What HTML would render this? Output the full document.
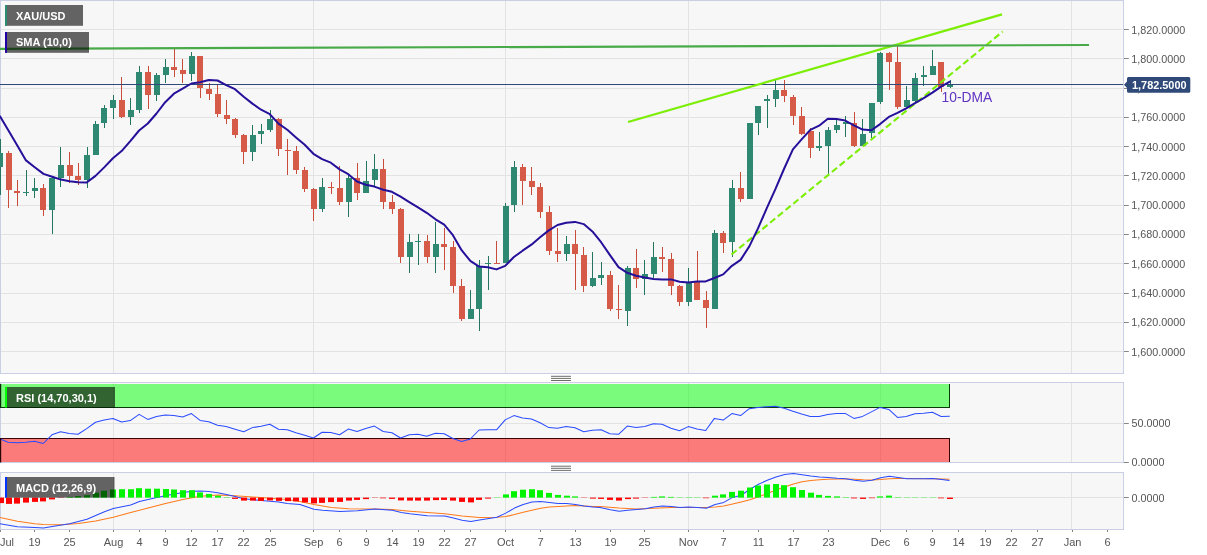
<!DOCTYPE html>
<html><head><meta charset="utf-8"><title>XAU/USD</title>
<style>html,body{margin:0;padding:0;background:#fff}body{width:1207px;height:555px;overflow:hidden;font-family:"Liberation Sans",Arial,sans-serif}svg{display:block}text{font-family:"Liberation Sans",Arial,sans-serif}</style></head><body>
<svg width="1207" height="555" viewBox="0 0 1207 555">
<rect width="1207" height="555" fill="#fff"/>
<rect x="0.5" y="0.5" width="1123.0" height="373" fill="#f7f7f7" stroke="#c9d0e6" stroke-width="1"/>
<rect x="0.5" y="382.5" width="1123.0" height="80" fill="#f7f7f7" stroke="#c9d0e6" stroke-width="1"/>
<rect x="0.5" y="472.5" width="1123.0" height="57" fill="#f7f7f7" stroke="#c9d0e6" stroke-width="1"/>
<defs>
<clipPath id="cp0"><rect x="0" y="1" width="1123.0" height="372"/></clipPath>
<clipPath id="cp1"><rect x="0" y="383" width="1123.0" height="79"/></clipPath>
<clipPath id="cp2"><rect x="0" y="473" width="1123.0" height="56"/></clipPath>
</defs>
<line x1="113.5" y1="1" x2="113.5" y2="373" stroke="#e3e3e3" stroke-width="1"/>
<line x1="313.5" y1="1" x2="313.5" y2="373" stroke="#e3e3e3" stroke-width="1"/>
<line x1="505.5" y1="1" x2="505.5" y2="373" stroke="#e3e3e3" stroke-width="1"/>
<line x1="688.5" y1="1" x2="688.5" y2="373" stroke="#e3e3e3" stroke-width="1"/>
<line x1="880.5" y1="1" x2="880.5" y2="373" stroke="#e3e3e3" stroke-width="1"/>
<line x1="1071.5" y1="1" x2="1071.5" y2="373" stroke="#e3e3e3" stroke-width="1"/>
<line x1="113.5" y1="383" x2="113.5" y2="462" stroke="#e3e3e3" stroke-width="1"/>
<line x1="313.5" y1="383" x2="313.5" y2="462" stroke="#e3e3e3" stroke-width="1"/>
<line x1="505.5" y1="383" x2="505.5" y2="462" stroke="#e3e3e3" stroke-width="1"/>
<line x1="688.5" y1="383" x2="688.5" y2="462" stroke="#e3e3e3" stroke-width="1"/>
<line x1="880.5" y1="383" x2="880.5" y2="462" stroke="#e3e3e3" stroke-width="1"/>
<line x1="1071.5" y1="383" x2="1071.5" y2="462" stroke="#e3e3e3" stroke-width="1"/>
<line x1="113.5" y1="473" x2="113.5" y2="529" stroke="#e3e3e3" stroke-width="1"/>
<line x1="313.5" y1="473" x2="313.5" y2="529" stroke="#e3e3e3" stroke-width="1"/>
<line x1="505.5" y1="473" x2="505.5" y2="529" stroke="#e3e3e3" stroke-width="1"/>
<line x1="688.5" y1="473" x2="688.5" y2="529" stroke="#e3e3e3" stroke-width="1"/>
<line x1="880.5" y1="473" x2="880.5" y2="529" stroke="#e3e3e3" stroke-width="1"/>
<line x1="1071.5" y1="473" x2="1071.5" y2="529" stroke="#e3e3e3" stroke-width="1"/>
<line x1="1" y1="29.5" x2="1123.5" y2="29.5" stroke="#e3e3e3" stroke-width="1"/>
<line x1="1124.0" y1="29.5" x2="1128.8" y2="29.5" stroke="#858585" stroke-width="1"/>
<text x="1131.2" y="34" font-size="11" fill="#555" textLength="54" lengthAdjust="spacingAndGlyphs">1,820.0000</text>
<line x1="1" y1="58.5" x2="1123.5" y2="58.5" stroke="#e3e3e3" stroke-width="1"/>
<line x1="1124.0" y1="58.5" x2="1128.8" y2="58.5" stroke="#858585" stroke-width="1"/>
<text x="1131.2" y="63" font-size="11" fill="#555" textLength="54" lengthAdjust="spacingAndGlyphs">1,800.0000</text>
<line x1="1" y1="88.5" x2="1123.5" y2="88.5" stroke="#e3e3e3" stroke-width="1"/>
<line x1="1124.0" y1="88.5" x2="1128.8" y2="88.5" stroke="#858585" stroke-width="1"/>
<text x="1131.2" y="92" font-size="11" fill="#555" textLength="54" lengthAdjust="spacingAndGlyphs">1,780.0000</text>
<line x1="1" y1="117.5" x2="1123.5" y2="117.5" stroke="#e3e3e3" stroke-width="1"/>
<line x1="1124.0" y1="117.5" x2="1128.8" y2="117.5" stroke="#858585" stroke-width="1"/>
<text x="1131.2" y="121" font-size="11" fill="#555" textLength="54" lengthAdjust="spacingAndGlyphs">1,760.0000</text>
<line x1="1" y1="146.5" x2="1123.5" y2="146.5" stroke="#e3e3e3" stroke-width="1"/>
<line x1="1124.0" y1="146.5" x2="1128.8" y2="146.5" stroke="#858585" stroke-width="1"/>
<text x="1131.2" y="151" font-size="11" fill="#555" textLength="54" lengthAdjust="spacingAndGlyphs">1,740.0000</text>
<line x1="1" y1="175.5" x2="1123.5" y2="175.5" stroke="#e3e3e3" stroke-width="1"/>
<line x1="1124.0" y1="175.5" x2="1128.8" y2="175.5" stroke="#858585" stroke-width="1"/>
<text x="1131.2" y="180" font-size="11" fill="#555" textLength="54" lengthAdjust="spacingAndGlyphs">1,720.0000</text>
<line x1="1" y1="205.5" x2="1123.5" y2="205.5" stroke="#e3e3e3" stroke-width="1"/>
<line x1="1124.0" y1="205.5" x2="1128.8" y2="205.5" stroke="#858585" stroke-width="1"/>
<text x="1131.2" y="209" font-size="11" fill="#555" textLength="54" lengthAdjust="spacingAndGlyphs">1,700.0000</text>
<line x1="1" y1="234.5" x2="1123.5" y2="234.5" stroke="#e3e3e3" stroke-width="1"/>
<line x1="1124.0" y1="234.5" x2="1128.8" y2="234.5" stroke="#858585" stroke-width="1"/>
<text x="1131.2" y="238" font-size="11" fill="#555" textLength="54" lengthAdjust="spacingAndGlyphs">1,680.0000</text>
<line x1="1" y1="263.5" x2="1123.5" y2="263.5" stroke="#e3e3e3" stroke-width="1"/>
<line x1="1124.0" y1="263.5" x2="1128.8" y2="263.5" stroke="#858585" stroke-width="1"/>
<text x="1131.2" y="268" font-size="11" fill="#555" textLength="54" lengthAdjust="spacingAndGlyphs">1,660.0000</text>
<line x1="1" y1="293.5" x2="1123.5" y2="293.5" stroke="#e3e3e3" stroke-width="1"/>
<line x1="1124.0" y1="293.5" x2="1128.8" y2="293.5" stroke="#858585" stroke-width="1"/>
<text x="1131.2" y="297" font-size="11" fill="#555" textLength="54" lengthAdjust="spacingAndGlyphs">1,640.0000</text>
<line x1="1" y1="322.5" x2="1123.5" y2="322.5" stroke="#e3e3e3" stroke-width="1"/>
<line x1="1124.0" y1="322.5" x2="1128.8" y2="322.5" stroke="#858585" stroke-width="1"/>
<text x="1131.2" y="326" font-size="11" fill="#555" textLength="54" lengthAdjust="spacingAndGlyphs">1,620.0000</text>
<line x1="1" y1="351.5" x2="1123.5" y2="351.5" stroke="#e3e3e3" stroke-width="1"/>
<line x1="1124.0" y1="351.5" x2="1128.8" y2="351.5" stroke="#858585" stroke-width="1"/>
<text x="1131.2" y="356" font-size="11" fill="#555" textLength="54" lengthAdjust="spacingAndGlyphs">1,600.0000</text>
<line x1="1" y1="423.5" x2="1123.5" y2="423.5" stroke="#e3e3e3" stroke-width="1"/>
<line x1="1124.0" y1="423.5" x2="1128.8" y2="423.5" stroke="#858585" stroke-width="1"/>
<text x="1131.5" y="426.5" font-size="11" fill="#555" textLength="39" lengthAdjust="spacingAndGlyphs">50.0000</text>
<line x1="1124.0" y1="462.5" x2="1128.8" y2="462.5" stroke="#858585" stroke-width="1"/>
<text x="1131.5" y="465.5" font-size="11" fill="#555" textLength="33" lengthAdjust="spacingAndGlyphs">0.0000</text>
<line x1="1" y1="497.5" x2="1123.5" y2="497.5" stroke="#e3e3e3" stroke-width="1"/>
<line x1="1124.0" y1="497.5" x2="1128.8" y2="497.5" stroke="#858585" stroke-width="1"/>
<text x="1131.5" y="501.5" font-size="11" fill="#555" textLength="33" lengthAdjust="spacingAndGlyphs">0.0000</text>
<g clip-path="url(#cp0)">
<g shape-rendering="crispEdges">
<rect x="0" y="138.6" width="1" height="55.9" fill="#22755f"/>
<rect x="-3" y="153.0" width="6" height="13.7" fill="#2f8872"/>
<rect x="8" y="151.0" width="1" height="57.2" fill="#c94b3a"/>
<rect x="6" y="152.8" width="6" height="37.2" fill="#d55a48"/>
<rect x="17" y="180.3" width="1" height="26.1" fill="#c94b3a"/>
<rect x="14" y="190.8" width="6" height="1.7" fill="#d55a48"/>
<rect x="26" y="170.2" width="1" height="26.1" fill="#22755f"/>
<rect x="23" y="191.5" width="6" height="1.3" fill="#2f8872"/>
<rect x="34" y="178.4" width="1" height="19.1" fill="#22755f"/>
<rect x="32" y="188.3" width="6" height="3.0" fill="#2f8872"/>
<rect x="43" y="184.0" width="1" height="32.4" fill="#c94b3a"/>
<rect x="40" y="188.0" width="6" height="22.0" fill="#d55a48"/>
<rect x="52" y="176.6" width="1" height="56.9" fill="#22755f"/>
<rect x="49" y="177.6" width="6" height="32.4" fill="#2f8872"/>
<rect x="60" y="147.3" width="1" height="39.3" fill="#22755f"/>
<rect x="58" y="164.7" width="6" height="12.9" fill="#2f8872"/>
<rect x="69" y="152.3" width="1" height="31.0" fill="#c94b3a"/>
<rect x="67" y="164.7" width="6" height="11.2" fill="#d55a48"/>
<rect x="78" y="163.0" width="1" height="22.3" fill="#c94b3a"/>
<rect x="75" y="176.4" width="6" height="3.2" fill="#d55a48"/>
<rect x="87" y="146.5" width="1" height="41.8" fill="#22755f"/>
<rect x="84" y="155.2" width="6" height="24.4" fill="#2f8872"/>
<rect x="95" y="121.2" width="1" height="34.0" fill="#22755f"/>
<rect x="93" y="123.7" width="6" height="31.5" fill="#2f8872"/>
<rect x="104" y="104.7" width="1" height="23.7" fill="#22755f"/>
<rect x="101" y="108.0" width="6" height="15.1" fill="#2f8872"/>
<rect x="113" y="94.6" width="1" height="24.5" fill="#22755f"/>
<rect x="110" y="99.7" width="6" height="8.3" fill="#2f8872"/>
<rect x="121" y="76.5" width="1" height="41.1" fill="#c94b3a"/>
<rect x="119" y="99.9" width="6" height="16.9" fill="#d55a48"/>
<rect x="130" y="98.4" width="1" height="27.0" fill="#22755f"/>
<rect x="128" y="109.8" width="6" height="7.0" fill="#2f8872"/>
<rect x="139" y="66.4" width="1" height="46.4" fill="#22755f"/>
<rect x="136" y="71.9" width="6" height="37.9" fill="#2f8872"/>
<rect x="148" y="66.4" width="1" height="42.6" fill="#c94b3a"/>
<rect x="145" y="71.9" width="6" height="23.0" fill="#d55a48"/>
<rect x="156" y="73.2" width="1" height="28.2" fill="#22755f"/>
<rect x="154" y="74.9" width="6" height="20.0" fill="#2f8872"/>
<rect x="165" y="58.5" width="1" height="24.8" fill="#22755f"/>
<rect x="163" y="67.4" width="6" height="7.3" fill="#2f8872"/>
<rect x="174" y="48.4" width="1" height="28.1" fill="#c94b3a"/>
<rect x="171" y="67.4" width="6" height="2.2" fill="#d55a48"/>
<rect x="182" y="59.3" width="1" height="23.2" fill="#c94b3a"/>
<rect x="180" y="70.4" width="6" height="3.3" fill="#d55a48"/>
<rect x="191" y="52.2" width="1" height="28.5" fill="#22755f"/>
<rect x="189" y="55.8" width="6" height="17.9" fill="#2f8872"/>
<rect x="200" y="55.8" width="1" height="42.6" fill="#c94b3a"/>
<rect x="197" y="55.8" width="6" height="32.5" fill="#d55a48"/>
<rect x="209" y="83.3" width="1" height="17.1" fill="#c94b3a"/>
<rect x="206" y="88.8" width="6" height="5.1" fill="#d55a48"/>
<rect x="217" y="85.0" width="1" height="32.3" fill="#c94b3a"/>
<rect x="215" y="94.4" width="6" height="19.9" fill="#d55a48"/>
<rect x="226" y="99.7" width="1" height="24.4" fill="#c94b3a"/>
<rect x="224" y="115.0" width="6" height="3.6" fill="#d55a48"/>
<rect x="235" y="118.0" width="1" height="20.2" fill="#c94b3a"/>
<rect x="232" y="119.3" width="6" height="15.7" fill="#d55a48"/>
<rect x="243" y="133.6" width="1" height="30.6" fill="#c94b3a"/>
<rect x="241" y="135.4" width="6" height="16.1" fill="#d55a48"/>
<rect x="252" y="125.4" width="1" height="35.1" fill="#22755f"/>
<rect x="250" y="134.9" width="6" height="16.6" fill="#2f8872"/>
<rect x="261" y="123.7" width="1" height="19.9" fill="#22755f"/>
<rect x="258" y="130.6" width="6" height="3.8" fill="#2f8872"/>
<rect x="270" y="109.5" width="1" height="22.9" fill="#22755f"/>
<rect x="267" y="119.4" width="6" height="10.5" fill="#2f8872"/>
<rect x="278" y="118.2" width="1" height="37.3" fill="#c94b3a"/>
<rect x="276" y="119.2" width="6" height="30.1" fill="#d55a48"/>
<rect x="287" y="138.6" width="1" height="36.8" fill="#c94b3a"/>
<rect x="285" y="149.8" width="6" height="1.0" fill="#d55a48"/>
<rect x="296" y="145.5" width="1" height="28.9" fill="#c94b3a"/>
<rect x="293" y="151.0" width="6" height="18.7" fill="#d55a48"/>
<rect x="304" y="166.7" width="1" height="24.8" fill="#c94b3a"/>
<rect x="302" y="170.2" width="6" height="18.6" fill="#d55a48"/>
<rect x="313" y="188.3" width="1" height="33.1" fill="#c94b3a"/>
<rect x="311" y="189.0" width="6" height="19.7" fill="#d55a48"/>
<rect x="322" y="178.4" width="1" height="34.0" fill="#22755f"/>
<rect x="319" y="187.1" width="6" height="21.6" fill="#2f8872"/>
<rect x="331" y="182.3" width="1" height="11.2" fill="#c94b3a"/>
<rect x="328" y="187.3" width="6" height="1.0" fill="#d55a48"/>
<rect x="339" y="165.9" width="1" height="39.3" fill="#c94b3a"/>
<rect x="337" y="188.0" width="6" height="14.0" fill="#d55a48"/>
<rect x="348" y="174.1" width="1" height="43.3" fill="#22755f"/>
<rect x="346" y="178.4" width="6" height="23.6" fill="#2f8872"/>
<rect x="357" y="162.9" width="1" height="36.6" fill="#c94b3a"/>
<rect x="354" y="178.4" width="6" height="14.4" fill="#d55a48"/>
<rect x="366" y="161.0" width="1" height="31.8" fill="#22755f"/>
<rect x="363" y="180.8" width="6" height="12.0" fill="#2f8872"/>
<rect x="374" y="153.5" width="1" height="32.3" fill="#22755f"/>
<rect x="372" y="169.2" width="6" height="11.1" fill="#2f8872"/>
<rect x="383" y="158.5" width="1" height="50.9" fill="#c94b3a"/>
<rect x="380" y="169.2" width="6" height="32.8" fill="#d55a48"/>
<rect x="392" y="194.5" width="1" height="19.9" fill="#c94b3a"/>
<rect x="389" y="202.2" width="6" height="6.7" fill="#d55a48"/>
<rect x="400" y="207.5" width="1" height="55.9" fill="#c94b3a"/>
<rect x="398" y="209.4" width="6" height="47.3" fill="#d55a48"/>
<rect x="409" y="234.3" width="1" height="38.3" fill="#22755f"/>
<rect x="407" y="242.3" width="6" height="14.4" fill="#2f8872"/>
<rect x="418" y="234.3" width="1" height="30.3" fill="#22755f"/>
<rect x="415" y="240.5" width="6" height="1.3" fill="#2f8872"/>
<rect x="427" y="235.3" width="1" height="28.1" fill="#c94b3a"/>
<rect x="424" y="240.5" width="6" height="16.2" fill="#d55a48"/>
<rect x="435" y="222.4" width="1" height="50.2" fill="#22755f"/>
<rect x="433" y="243.5" width="6" height="13.2" fill="#2f8872"/>
<rect x="444" y="227.8" width="1" height="42.5" fill="#c94b3a"/>
<rect x="441" y="243.5" width="6" height="3.2" fill="#d55a48"/>
<rect x="453" y="241.0" width="1" height="52.2" fill="#c94b3a"/>
<rect x="450" y="247.2" width="6" height="38.6" fill="#d55a48"/>
<rect x="461" y="278.8" width="1" height="41.8" fill="#c94b3a"/>
<rect x="459" y="286.3" width="6" height="33.0" fill="#d55a48"/>
<rect x="470" y="289.5" width="1" height="29.8" fill="#22755f"/>
<rect x="468" y="308.9" width="6" height="9.9" fill="#2f8872"/>
<rect x="479" y="259.7" width="1" height="70.8" fill="#22755f"/>
<rect x="476" y="265.9" width="6" height="42.7" fill="#2f8872"/>
<rect x="488" y="256.4" width="1" height="33.8" fill="#22755f"/>
<rect x="485" y="262.9" width="6" height="1.0" fill="#2f8872"/>
<rect x="496" y="241.0" width="1" height="22.9" fill="#c94b3a"/>
<rect x="494" y="263.1" width="6" height="1.0" fill="#d55a48"/>
<rect x="505" y="202.5" width="1" height="60.4" fill="#22755f"/>
<rect x="503" y="205.5" width="6" height="57.4" fill="#2f8872"/>
<rect x="514" y="161.0" width="1" height="51.4" fill="#22755f"/>
<rect x="511" y="167.2" width="6" height="38.0" fill="#2f8872"/>
<rect x="522" y="164.2" width="1" height="40.3" fill="#c94b3a"/>
<rect x="520" y="167.2" width="6" height="13.9" fill="#d55a48"/>
<rect x="531" y="167.2" width="1" height="28.1" fill="#c94b3a"/>
<rect x="529" y="181.3" width="6" height="5.5" fill="#d55a48"/>
<rect x="540" y="183.3" width="1" height="34.8" fill="#c94b3a"/>
<rect x="537" y="187.1" width="6" height="24.6" fill="#d55a48"/>
<rect x="549" y="205.5" width="1" height="49.7" fill="#c94b3a"/>
<rect x="546" y="211.9" width="6" height="38.6" fill="#d55a48"/>
<rect x="557" y="228.1" width="1" height="34.0" fill="#c94b3a"/>
<rect x="555" y="251.0" width="6" height="3.2" fill="#d55a48"/>
<rect x="566" y="236.0" width="1" height="25.4" fill="#22755f"/>
<rect x="564" y="244.2" width="6" height="10.0" fill="#2f8872"/>
<rect x="575" y="230.3" width="1" height="59.2" fill="#c94b3a"/>
<rect x="572" y="244.2" width="6" height="9.7" fill="#d55a48"/>
<rect x="583" y="246.5" width="1" height="45.5" fill="#c94b3a"/>
<rect x="581" y="254.7" width="6" height="31.1" fill="#d55a48"/>
<rect x="592" y="251.5" width="1" height="35.5" fill="#22755f"/>
<rect x="590" y="278.3" width="6" height="7.5" fill="#2f8872"/>
<rect x="601" y="262.1" width="1" height="22.4" fill="#22755f"/>
<rect x="598" y="275.3" width="6" height="2.5" fill="#2f8872"/>
<rect x="610" y="271.3" width="1" height="40.1" fill="#c94b3a"/>
<rect x="607" y="275.3" width="6" height="33.3" fill="#d55a48"/>
<rect x="618" y="284.5" width="1" height="34.1" fill="#c94b3a"/>
<rect x="616" y="308.6" width="6" height="1.3" fill="#d55a48"/>
<rect x="627" y="265.9" width="1" height="60.4" fill="#22755f"/>
<rect x="625" y="267.6" width="6" height="43.0" fill="#2f8872"/>
<rect x="636" y="248.5" width="1" height="39.0" fill="#c94b3a"/>
<rect x="633" y="267.6" width="6" height="11.2" fill="#d55a48"/>
<rect x="644" y="260.4" width="1" height="34.8" fill="#22755f"/>
<rect x="642" y="273.8" width="6" height="5.0" fill="#2f8872"/>
<rect x="653" y="241.5" width="1" height="36.3" fill="#22755f"/>
<rect x="651" y="257.2" width="6" height="16.6" fill="#2f8872"/>
<rect x="662" y="247.2" width="1" height="24.4" fill="#c94b3a"/>
<rect x="659" y="257.2" width="6" height="1.5" fill="#d55a48"/>
<rect x="671" y="252.9" width="1" height="42.3" fill="#c94b3a"/>
<rect x="668" y="259.2" width="6" height="26.6" fill="#d55a48"/>
<rect x="679" y="284.5" width="1" height="21.1" fill="#c94b3a"/>
<rect x="677" y="286.3" width="6" height="16.1" fill="#d55a48"/>
<rect x="688" y="268.4" width="1" height="38.0" fill="#22755f"/>
<rect x="686" y="282.0" width="6" height="20.4" fill="#2f8872"/>
<rect x="697" y="250.5" width="1" height="49.4" fill="#c94b3a"/>
<rect x="694" y="282.0" width="6" height="17.9" fill="#d55a48"/>
<rect x="706" y="291.2" width="1" height="36.3" fill="#c94b3a"/>
<rect x="703" y="299.9" width="6" height="8.2" fill="#d55a48"/>
<rect x="714" y="230.3" width="1" height="79.1" fill="#22755f"/>
<rect x="712" y="233.1" width="6" height="75.5" fill="#2f8872"/>
<rect x="723" y="231.1" width="1" height="22.3" fill="#c94b3a"/>
<rect x="720" y="233.1" width="6" height="9.7" fill="#d55a48"/>
<rect x="732" y="180.1" width="1" height="76.6" fill="#22755f"/>
<rect x="729" y="187.6" width="6" height="54.7" fill="#2f8872"/>
<rect x="740" y="171.9" width="1" height="30.3" fill="#c94b3a"/>
<rect x="738" y="187.6" width="6" height="10.9" fill="#d55a48"/>
<rect x="749" y="123.0" width="1" height="76.3" fill="#22755f"/>
<rect x="747" y="123.4" width="6" height="75.1" fill="#2f8872"/>
<rect x="758" y="105.5" width="1" height="29.9" fill="#22755f"/>
<rect x="755" y="106.0" width="6" height="17.4" fill="#2f8872"/>
<rect x="767" y="94.9" width="1" height="32.8" fill="#22755f"/>
<rect x="764" y="99.3" width="6" height="1.3" fill="#2f8872"/>
<rect x="775" y="78.7" width="1" height="27.8" fill="#22755f"/>
<rect x="773" y="90.4" width="6" height="8.9" fill="#2f8872"/>
<rect x="784" y="80.4" width="1" height="21.9" fill="#c94b3a"/>
<rect x="781" y="90.4" width="6" height="5.7" fill="#d55a48"/>
<rect x="793" y="94.9" width="1" height="30.3" fill="#c94b3a"/>
<rect x="790" y="96.6" width="6" height="18.9" fill="#d55a48"/>
<rect x="801" y="106.5" width="1" height="28.9" fill="#c94b3a"/>
<rect x="799" y="116.0" width="6" height="18.1" fill="#d55a48"/>
<rect x="810" y="128.4" width="1" height="29.1" fill="#c94b3a"/>
<rect x="808" y="130.9" width="6" height="16.9" fill="#d55a48"/>
<rect x="819" y="132.1" width="1" height="18.7" fill="#22755f"/>
<rect x="816" y="145.8" width="6" height="2.0" fill="#2f8872"/>
<rect x="828" y="126.7" width="1" height="47.7" fill="#22755f"/>
<rect x="825" y="129.7" width="6" height="16.6" fill="#2f8872"/>
<rect x="836" y="119.7" width="1" height="13.7" fill="#22755f"/>
<rect x="834" y="124.7" width="6" height="5.5" fill="#2f8872"/>
<rect x="845" y="115.5" width="1" height="21.6" fill="#22755f"/>
<rect x="843" y="122.2" width="6" height="1.5" fill="#2f8872"/>
<rect x="854" y="111.5" width="1" height="35.6" fill="#c94b3a"/>
<rect x="851" y="122.7" width="6" height="23.6" fill="#d55a48"/>
<rect x="862" y="118.5" width="1" height="27.3" fill="#22755f"/>
<rect x="860" y="134.1" width="6" height="11.7" fill="#2f8872"/>
<rect x="871" y="103.1" width="1" height="35.3" fill="#22755f"/>
<rect x="869" y="103.1" width="6" height="30.3" fill="#2f8872"/>
<rect x="880" y="52.2" width="1" height="52.2" fill="#22755f"/>
<rect x="877" y="53.4" width="6" height="49.0" fill="#2f8872"/>
<rect x="889" y="52.2" width="1" height="37.8" fill="#c94b3a"/>
<rect x="886" y="53.4" width="6" height="8.7" fill="#d55a48"/>
<rect x="897" y="46.0" width="1" height="62.6" fill="#c94b3a"/>
<rect x="895" y="61.6" width="6" height="45.8" fill="#d55a48"/>
<rect x="906" y="86.3" width="1" height="21.1" fill="#22755f"/>
<rect x="904" y="100.2" width="6" height="7.2" fill="#2f8872"/>
<rect x="915" y="72.6" width="1" height="29.3" fill="#22755f"/>
<rect x="912" y="77.8" width="6" height="22.9" fill="#2f8872"/>
<rect x="923" y="66.4" width="1" height="19.9" fill="#22755f"/>
<rect x="921" y="75.3" width="6" height="2.0" fill="#2f8872"/>
<rect x="932" y="49.7" width="1" height="25.4" fill="#22755f"/>
<rect x="930" y="65.9" width="6" height="9.2" fill="#2f8872"/>
<rect x="941" y="62.1" width="1" height="29.4" fill="#c94b3a"/>
<rect x="938" y="62.1" width="6" height="24.4" fill="#d55a48"/>
<rect x="950" y="79.5" width="1" height="8.7" fill="#22755f"/>
<rect x="947" y="85.0" width="6" height="2.0" fill="#2f8872"/>
</g>
<line x1="0" y1="84.5" x2="1123.5" y2="84.5" stroke="#2f4a78" stroke-width="1.2"/>
<line x1="628" y1="122" x2="1002" y2="14.3" stroke="#7cee05" stroke-width="2.3"/>
<line x1="731.5" y1="254.5" x2="1002.7" y2="31.6" stroke="#7cee05" stroke-width="2.1" stroke-dasharray="6.6,3.4"/>
<line x1="0" y1="48.8" x2="1089" y2="45" stroke="#48aa48" stroke-width="2.2"/>
<polyline points="0.0,116.2 8.6,130.8 17.3,145.6 26.0,160.4 34.7,167.2 43.5,173.9 52.2,176.7 60.9,179.6 69.6,181.2 78.0,182.3 86.7,182.5 95.5,175.9 104.2,167.4 112.9,158.3 121.6,151.1 130.3,141.1 139.1,130.5 147.8,123.5 156.5,113.5 165.2,102.2 173.9,93.7 182.6,88.7 191.4,83.5 200.1,82.3 208.8,80.0 217.5,80.5 226.2,85.1 235.0,89.2 243.7,96.8 252.4,103.6 261.1,109.7 269.8,114.2 278.5,123.6 287.3,129.8 296.0,137.4 304.7,144.8 313.4,153.8 322.1,159.1 330.8,162.7 339.6,169.4 348.3,174.2 357.0,181.5 365.7,184.7 374.4,186.6 383.2,189.8 391.9,191.8 400.6,196.6 409.3,202.1 418.0,207.4 426.7,212.8 435.5,219.3 444.2,224.7 452.9,235.2 461.6,250.2 470.3,260.9 479.1,266.6 487.8,267.2 496.5,269.4 505.2,265.9 513.9,257.0 522.6,250.7 531.4,244.7 540.1,237.3 548.8,230.4 557.5,225.0 566.2,222.8 575.0,221.9 583.7,224.1 592.4,231.4 601.1,242.2 609.8,254.9 618.5,267.2 627.3,272.8 636.0,275.7 644.7,277.6 653.4,278.9 662.1,279.4 670.9,279.4 679.6,281.8 688.3,282.5 697.0,281.6 705.7,281.4 714.4,278.0 723.2,274.4 731.9,265.8 740.6,259.9 749.3,246.4 758.0,228.4 766.8,208.1 775.5,188.9 784.2,168.5 792.9,149.3 801.6,139.4 810.3,129.9 819.1,125.7 827.8,118.8 836.5,118.9 845.2,120.6 853.9,125.3 862.6,129.6 871.4,130.3 880.1,124.1 888.8,116.9 897.5,112.9 906.2,108.3 915.0,103.1 923.7,98.2 932.4,92.6 941.1,86.6 949.8,81.7" fill="none" stroke="#25109a" stroke-width="2" stroke-linejoin="round" stroke-linecap="round"/>
<text x="941.6" y="102" font-size="14" fill="#6134c2" textLength="50.7" lengthAdjust="spacingAndGlyphs">10-DMA</text>
</g>
<g clip-path="url(#cp1)">
<rect x="0" y="384" width="949.5" height="23.5" fill="#00ff00" fill-opacity="0.5"/>
<rect x="0" y="438.5" width="949.5" height="24" fill="#ff0000" fill-opacity="0.5"/>
<line x1="0" y1="407.5" x2="949.5" y2="407.5" stroke="#083c08" stroke-width="1.2"/>
<line x1="0" y1="438.5" x2="949.5" y2="438.5" stroke="#3c0505" stroke-width="1.2"/>
<line x1="949.5" y1="384" x2="949.5" y2="408" stroke="#083c08" stroke-width="1"/>
<line x1="949.5" y1="438" x2="949.5" y2="463" stroke="#3c0505" stroke-width="1"/>
<polyline points="0.0,439.0 8.3,442.2 17.0,442.7 25.7,442.2 34.4,441.2 43.2,443.5 51.9,434.8 60.6,431.8 69.3,433.5 78.0,434.3 86.7,428.6 95.5,422.3 104.2,419.9 112.9,418.4 121.6,422.1 130.3,420.6 139.1,414.4 147.8,419.4 156.5,416.6 165.2,415.1 173.9,415.6 182.6,416.9 191.4,413.6 200.1,420.4 208.8,421.8 217.5,425.3 226.2,426.6 235.0,429.3 243.7,431.8 252.4,427.6 261.1,426.3 269.8,424.3 278.5,429.3 287.3,429.8 296.0,432.8 304.7,435.3 313.4,438.0 322.1,432.3 330.8,432.5 339.6,434.8 348.3,429.1 357.0,431.5 365.7,428.6 374.4,426.1 383.2,431.5 391.9,432.8 400.6,438.0 409.3,434.8 418.0,434.3 426.7,436.3 435.5,433.3 444.2,433.8 452.9,438.5 461.6,441.5 470.3,439.0 479.1,430.0 487.8,429.8 496.5,429.8 505.2,419.9 513.9,415.6 522.6,417.9 531.4,419.1 540.1,422.8 548.8,427.6 557.5,428.3 566.2,426.6 575.0,427.8 583.7,431.8 592.4,430.3 601.1,429.8 609.8,433.8 618.5,434.3 627.3,426.1 636.0,427.6 644.7,426.6 653.4,423.8 662.1,424.3 670.9,428.3 679.6,430.8 688.3,426.6 697.0,429.1 705.7,430.5 714.4,418.4 723.2,420.1 731.9,413.6 740.6,415.6 749.3,408.7 758.0,407.4 766.8,406.7 775.5,406.2 784.2,408.2 792.9,411.2 801.6,414.1 810.3,416.6 819.1,416.4 827.8,414.4 836.5,413.6 845.2,413.4 853.9,418.4 862.6,416.4 871.4,411.9 880.1,407.4 888.8,409.4 897.5,417.4 906.2,416.5 915.0,413.8 923.7,413.3 932.4,412.3 941.1,416.5 949.8,416.3" fill="none" stroke="#2a4bff" stroke-width="1.05" stroke-linejoin="round"/>
</g>
<rect x="0" y="384" width="1.2" height="24" fill="#0a280a"/>
<rect x="0" y="438" width="1.2" height="24.5" fill="#2a0505"/>
<g clip-path="url(#cp2)">
<polyline points="0.0,517.5 17.4,521.3 34.8,523.8 43.5,524.5 60.9,524.8 78.3,523.5 95.7,521.0 113.3,517.3 130.7,512.6 148.1,508.1 165.5,503.6 182.9,499.4 200.3,496.2 217.7,494.9 235.1,495.7 252.5,496.9 269.9,498.2 287.3,499.4 300.0,501.4 313.9,504.4 331.3,507.4 348.7,508.8 374.8,509.1 392.2,509.6 409.9,511.3 427.3,512.6 444.7,513.8 462.1,516.1 479.5,517.5 496.9,517.3 505.8,516.6 514.5,514.6 523.2,512.3 531.9,510.3 540.6,508.3 549.3,507.1 558.0,506.4 566.7,505.9 575.4,505.6 584.1,506.1 592.8,506.6 600.0,506.5 619.1,508.1 636.5,509.1 653.9,508.3 671.3,507.6 688.7,507.4 706.4,507.6 715.1,506.9 723.8,505.9 732.5,504.1 741.2,501.9 749.9,499.8 758.6,496.8 767.3,493.4 776.0,490.0 784.7,486.9 793.4,484.0 802.1,481.8 810.8,480.5 819.5,479.8 828.2,479.3 837.1,479.0 845.8,479.0 854.5,479.3 863.2,479.8 871.9,480.0 880.7,479.5 889.4,478.8 898.1,478.5 906.8,478.4 933.0,478.7 949.5,479.2" fill="none" stroke="#ff7a1a" stroke-width="1.05" stroke-linejoin="round"/>
<polyline points="0.0,523.8 17.4,526.7 34.8,527.6 43.5,528.1 52.2,526.6 69.6,523.7 87.0,519.3 104.4,511.8 113.3,508.6 130.7,504.9 139.4,501.4 156.8,497.4 174.2,493.9 191.6,491.2 200.3,490.9 209.0,491.4 217.7,492.7 226.4,494.4 235.1,496.4 243.8,498.7 261.2,500.6 278.6,501.9 287.3,503.4 300.0,504.4 313.9,509.3 322.6,510.3 340.0,511.6 357.4,510.8 374.8,509.1 392.2,510.3 401.2,512.6 409.9,513.8 427.3,515.8 444.7,516.1 453.4,518.0 462.1,520.3 470.8,521.5 479.5,520.0 496.9,517.3 505.8,513.1 514.5,508.1 523.2,504.4 531.9,502.1 540.6,501.4 549.3,502.4 558.0,503.4 566.7,503.6 575.4,504.4 584.1,506.1 592.8,507.1 600.0,507.6 610.4,509.8 619.1,511.3 627.8,510.3 645.2,508.8 653.9,507.1 662.6,506.1 671.3,506.6 680.0,507.4 688.7,506.9 697.4,507.6 706.4,508.3 715.1,504.6 723.8,502.4 732.5,497.4 741.2,495.2 749.9,489.2 758.6,484.2 767.3,480.3 776.0,477.0 784.7,474.4 793.4,473.6 802.1,474.8 810.8,476.0 819.5,477.0 828.2,477.5 837.1,478.3 845.8,478.8 854.5,480.3 863.2,481.3 871.9,480.3 880.7,477.8 889.4,476.3 898.1,477.5 906.8,478.7 915.5,478.7 924.3,478.7 933.0,478.4 941.7,479.4 949.5,480.4" fill="none" stroke="#2a4bff" stroke-width="1.05" stroke-linejoin="round"/>
<g>
<rect x="-2" y="497.6" width="6" height="5.5" fill="#ff0000"/>
<rect x="6" y="497.6" width="6" height="6.3" fill="#ff0000"/>
<rect x="14" y="497.6" width="6" height="6.0" fill="#ff0000"/>
<rect x="23" y="497.6" width="6" height="5.0" fill="#ff0000"/>
<rect x="32" y="497.6" width="6" height="4.3" fill="#ff0000"/>
<rect x="40" y="497.6" width="6" height="3.8" fill="#ff0000"/>
<rect x="49" y="497.6" width="6" height="1.8" fill="#ff0000"/>
<rect x="58" y="497.6" width="6" height="0.3" fill="#ff0000"/>
<rect x="67" y="496.9" width="6" height="0.7" fill="#00f400"/>
<rect x="75" y="496.2" width="6" height="1.4" fill="#00f400"/>
<rect x="84" y="495.2" width="6" height="2.4" fill="#00f400"/>
<rect x="93" y="492.7" width="6" height="4.9" fill="#00f400"/>
<rect x="101" y="490.7" width="6" height="6.9" fill="#00f400"/>
<rect x="110" y="489.5" width="6" height="8.1" fill="#00f400"/>
<rect x="119" y="489.2" width="6" height="8.4" fill="#00f400"/>
<rect x="128" y="489.2" width="6" height="8.4" fill="#00f400"/>
<rect x="136" y="488.2" width="6" height="9.4" fill="#00f400"/>
<rect x="145" y="488.7" width="6" height="8.9" fill="#00f400"/>
<rect x="154" y="488.7" width="6" height="8.9" fill="#00f400"/>
<rect x="163" y="489.0" width="6" height="8.6" fill="#00f400"/>
<rect x="171" y="489.5" width="6" height="8.1" fill="#00f400"/>
<rect x="180" y="490.2" width="6" height="7.4" fill="#00f400"/>
<rect x="189" y="490.2" width="6" height="7.4" fill="#00f400"/>
<rect x="197" y="492.4" width="6" height="5.2" fill="#00f400"/>
<rect x="206" y="493.9" width="6" height="3.7" fill="#00f400"/>
<rect x="215" y="495.7" width="6" height="1.9" fill="#00f400"/>
<rect x="224" y="497.2" width="6" height="0.4" fill="#00f400"/>
<rect x="232" y="497.6" width="6" height="1.3" fill="#ff0000"/>
<rect x="241" y="497.6" width="6" height="3.0" fill="#ff0000"/>
<rect x="250" y="497.6" width="6" height="3.0" fill="#ff0000"/>
<rect x="258" y="497.6" width="6" height="3.3" fill="#ff0000"/>
<rect x="267" y="497.6" width="6" height="2.8" fill="#ff0000"/>
<rect x="276" y="497.6" width="6" height="3.3" fill="#ff0000"/>
<rect x="285" y="497.6" width="6" height="3.5" fill="#ff0000"/>
<rect x="293" y="497.6" width="6" height="3.8" fill="#ff0000"/>
<rect x="302" y="497.6" width="6" height="4.8" fill="#ff0000"/>
<rect x="311" y="497.6" width="6" height="5.8" fill="#ff0000"/>
<rect x="319" y="497.6" width="6" height="5.3" fill="#ff0000"/>
<rect x="328" y="497.6" width="6" height="4.5" fill="#ff0000"/>
<rect x="337" y="497.6" width="6" height="4.3" fill="#ff0000"/>
<rect x="346" y="497.6" width="6" height="3.0" fill="#ff0000"/>
<rect x="354" y="497.6" width="6" height="2.3" fill="#ff0000"/>
<rect x="363" y="497.6" width="6" height="1.5" fill="#ff0000"/>
<rect x="372" y="497.6" width="6" height="0.3" fill="#ff0000"/>
<rect x="380" y="497.6" width="6" height="0.7" fill="#ff0000"/>
<rect x="389" y="497.6" width="6" height="1.3" fill="#ff0000"/>
<rect x="398" y="497.6" width="6" height="2.8" fill="#ff0000"/>
<rect x="407" y="497.6" width="6" height="3.0" fill="#ff0000"/>
<rect x="415" y="497.6" width="6" height="3.0" fill="#ff0000"/>
<rect x="424" y="497.6" width="6" height="3.0" fill="#ff0000"/>
<rect x="433" y="497.6" width="6" height="2.5" fill="#ff0000"/>
<rect x="441" y="497.6" width="6" height="2.3" fill="#ff0000"/>
<rect x="450" y="497.6" width="6" height="3.0" fill="#ff0000"/>
<rect x="459" y="497.6" width="6" height="4.3" fill="#ff0000"/>
<rect x="468" y="497.6" width="6" height="4.8" fill="#ff0000"/>
<rect x="476" y="497.6" width="6" height="2.3" fill="#ff0000"/>
<rect x="485" y="497.6" width="6" height="1.0" fill="#ff0000"/>
<rect x="494" y="497.3" width="6" height="0.3" fill="#00f400"/>
<rect x="503" y="494.4" width="6" height="3.2" fill="#00f400"/>
<rect x="511" y="491.2" width="6" height="6.4" fill="#00f400"/>
<rect x="520" y="489.7" width="6" height="7.9" fill="#00f400"/>
<rect x="529" y="489.2" width="6" height="8.4" fill="#00f400"/>
<rect x="537" y="490.2" width="6" height="7.4" fill="#00f400"/>
<rect x="546" y="492.9" width="6" height="4.7" fill="#00f400"/>
<rect x="555" y="494.9" width="6" height="2.7" fill="#00f400"/>
<rect x="564" y="495.7" width="6" height="1.9" fill="#00f400"/>
<rect x="572" y="496.4" width="6" height="1.2" fill="#00f400"/>
<rect x="581" y="497.6" width="6" height="0.3" fill="#ff0000"/>
<rect x="590" y="497.6" width="6" height="1.0" fill="#ff0000"/>
<rect x="598" y="497.6" width="6" height="1.3" fill="#ff0000"/>
<rect x="607" y="497.6" width="6" height="2.3" fill="#ff0000"/>
<rect x="616" y="497.6" width="6" height="3.0" fill="#ff0000"/>
<rect x="625" y="497.6" width="6" height="1.5" fill="#ff0000"/>
<rect x="633" y="497.6" width="6" height="1.0" fill="#ff0000"/>
<rect x="642" y="497.6" width="6" height="0.3" fill="#ff0000"/>
<rect x="651" y="496.9" width="6" height="0.7" fill="#00f400"/>
<rect x="659" y="496.4" width="6" height="1.2" fill="#00f400"/>
<rect x="668" y="496.9" width="6" height="0.7" fill="#00f400"/>
<rect x="677" y="497.3" width="6" height="0.3" fill="#00f400"/>
<rect x="686" y="497.2" width="6" height="0.4" fill="#00f400"/>
<rect x="694" y="497.3" width="6" height="0.3" fill="#00f400"/>
<rect x="703" y="497.6" width="6" height="0.6" fill="#ff0000"/>
<rect x="712" y="495.7" width="6" height="1.9" fill="#00f400"/>
<rect x="720" y="494.4" width="6" height="3.2" fill="#00f400"/>
<rect x="729" y="491.9" width="6" height="5.7" fill="#00f400"/>
<rect x="738" y="490.7" width="6" height="6.9" fill="#00f400"/>
<rect x="747" y="487.5" width="6" height="10.1" fill="#00f400"/>
<rect x="755" y="485.5" width="6" height="12.1" fill="#00f400"/>
<rect x="764" y="484.5" width="6" height="13.1" fill="#00f400"/>
<rect x="773" y="484.0" width="6" height="13.6" fill="#00f400"/>
<rect x="781" y="485.2" width="6" height="12.4" fill="#00f400"/>
<rect x="790" y="487.2" width="6" height="10.4" fill="#00f400"/>
<rect x="799" y="490.0" width="6" height="7.6" fill="#00f400"/>
<rect x="808" y="492.7" width="6" height="4.9" fill="#00f400"/>
<rect x="816" y="494.9" width="6" height="2.7" fill="#00f400"/>
<rect x="825" y="495.9" width="6" height="1.7" fill="#00f400"/>
<rect x="834" y="496.4" width="6" height="1.2" fill="#00f400"/>
<rect x="843" y="497.2" width="6" height="0.4" fill="#00f400"/>
<rect x="851" y="497.6" width="6" height="0.8" fill="#ff0000"/>
<rect x="860" y="497.6" width="6" height="1.3" fill="#ff0000"/>
<rect x="869" y="497.6" width="6" height="0.6" fill="#ff0000"/>
<rect x="877" y="496.4" width="6" height="1.2" fill="#00f400"/>
<rect x="886" y="495.6" width="6" height="2.0" fill="#00f400"/>
<rect x="895" y="497.2" width="6" height="0.4" fill="#00f400"/>
<rect x="904" y="497.3" width="6" height="0.3" fill="#00f400"/>
<rect x="912" y="497.3" width="6" height="0.3" fill="#00f400"/>
<rect x="921" y="497.3" width="6" height="0.3" fill="#00f400"/>
<rect x="930" y="497.3" width="6" height="0.3" fill="#00f400"/>
<rect x="938" y="497.6" width="6" height="0.7" fill="#ff0000"/>
<rect x="947" y="497.6" width="6" height="1.4" fill="#ff0000"/>
</g>
</g>
<rect x="5" y="5" width="78" height="20.8" fill="#000" fill-opacity="0.6"/>
<rect x="5" y="5" width="2" height="20.8" fill="#2a8a72"/>
<text x="16" y="19.8" font-size="11" font-weight="bold" fill="#fff">XAU/USD</text>
<rect x="5" y="32" width="84" height="20.8" fill="#000" fill-opacity="0.6"/>
<rect x="5" y="32" width="2" height="20.8" fill="#2200a8"/>
<text x="16" y="46.2" font-size="11" font-weight="bold" fill="#fff">SMA (10,0)</text>
<rect x="5" y="387" width="110" height="20.6" fill="#000" fill-opacity="0.6"/>
<rect x="5" y="387" width="2" height="20.6" fill="#00ff00"/>
<text x="16" y="401.8" font-size="11" font-weight="bold" fill="#fff">RSI (14,70,30,1)</text>
<rect x="5" y="477" width="109.5" height="20.6" fill="#000" fill-opacity="0.6"/>
<rect x="5" y="477" width="2" height="20.6" fill="#0033ff"/>
<text x="16" y="491.8" font-size="11" font-weight="bold" fill="#fff">MACD (12,26,9)</text>
<path d="M1124 84.7 L1127 81.5 L1127 78.5 Q1127 77 1128.5 77 L1188.8 77 Q1190.3 77 1190.3 78.5 L1190.3 91.2 Q1190.3 92.7 1188.8 92.7 L1128.5 92.7 Q1127 92.7 1127 91.2 L1127 88 Z" fill="#2f4a78"/>
<text x="1132" y="88.7" font-size="11" font-weight="bold" fill="#fff" textLength="54.5" lengthAdjust="spacingAndGlyphs">1,782.5000</text>
<line x1="551" y1="376.29999999999995" x2="571" y2="376.29999999999995" stroke="#5c5c5c" stroke-width="0.9"/>
<line x1="551" y1="378.4" x2="571" y2="378.4" stroke="#5c5c5c" stroke-width="0.9"/>
<line x1="551" y1="380.5" x2="571" y2="380.5" stroke="#5c5c5c" stroke-width="0.9"/>
<line x1="551" y1="466.2" x2="571" y2="466.2" stroke="#5c5c5c" stroke-width="0.9"/>
<line x1="551" y1="468.3" x2="571" y2="468.3" stroke="#5c5c5c" stroke-width="0.9"/>
<line x1="551" y1="470.40000000000003" x2="571" y2="470.40000000000003" stroke="#5c5c5c" stroke-width="0.9"/>
<line x1="0.5" y1="530" x2="0.5" y2="532" stroke="#888" stroke-width="1"/>
<text x="0" y="546" font-size="11" fill="#555">Jul</text>
<line x1="34.5" y1="530" x2="34.5" y2="532" stroke="#808080" stroke-width="1"/>
<text x="34.5" y="546" font-size="11" fill="#555" text-anchor="middle">19</text>
<line x1="69.5" y1="530" x2="69.5" y2="532" stroke="#808080" stroke-width="1"/>
<text x="69.5" y="546" font-size="11" fill="#555" text-anchor="middle">25</text>
<line x1="113.5" y1="530" x2="113.5" y2="532" stroke="#808080" stroke-width="1"/>
<text x="113.5" y="546" font-size="11" fill="#555" text-anchor="middle">Aug</text>
<line x1="139.5" y1="530" x2="139.5" y2="532" stroke="#808080" stroke-width="1"/>
<text x="139.5" y="546" font-size="11" fill="#555" text-anchor="middle">4</text>
<line x1="165.5" y1="530" x2="165.5" y2="532" stroke="#808080" stroke-width="1"/>
<text x="165.5" y="546" font-size="11" fill="#555" text-anchor="middle">9</text>
<line x1="191.5" y1="530" x2="191.5" y2="532" stroke="#808080" stroke-width="1"/>
<text x="191.5" y="546" font-size="11" fill="#555" text-anchor="middle">12</text>
<line x1="217.5" y1="530" x2="217.5" y2="532" stroke="#808080" stroke-width="1"/>
<text x="217.5" y="546" font-size="11" fill="#555" text-anchor="middle">17</text>
<line x1="243.5" y1="530" x2="243.5" y2="532" stroke="#808080" stroke-width="1"/>
<text x="243.5" y="546" font-size="11" fill="#555" text-anchor="middle">22</text>
<line x1="270.5" y1="530" x2="270.5" y2="532" stroke="#808080" stroke-width="1"/>
<text x="270.5" y="546" font-size="11" fill="#555" text-anchor="middle">25</text>
<line x1="313.5" y1="530" x2="313.5" y2="532" stroke="#808080" stroke-width="1"/>
<text x="313.5" y="546" font-size="11" fill="#555" text-anchor="middle">Sep</text>
<line x1="339.5" y1="530" x2="339.5" y2="532" stroke="#808080" stroke-width="1"/>
<text x="339.5" y="546" font-size="11" fill="#555" text-anchor="middle">6</text>
<line x1="366.5" y1="530" x2="366.5" y2="532" stroke="#808080" stroke-width="1"/>
<text x="366.5" y="546" font-size="11" fill="#555" text-anchor="middle">9</text>
<line x1="392.5" y1="530" x2="392.5" y2="532" stroke="#808080" stroke-width="1"/>
<text x="392.5" y="546" font-size="11" fill="#555" text-anchor="middle">14</text>
<line x1="418.5" y1="530" x2="418.5" y2="532" stroke="#808080" stroke-width="1"/>
<text x="418.5" y="546" font-size="11" fill="#555" text-anchor="middle">19</text>
<line x1="444.5" y1="530" x2="444.5" y2="532" stroke="#808080" stroke-width="1"/>
<text x="444.5" y="546" font-size="11" fill="#555" text-anchor="middle">22</text>
<line x1="470.5" y1="530" x2="470.5" y2="532" stroke="#808080" stroke-width="1"/>
<text x="470.5" y="546" font-size="11" fill="#555" text-anchor="middle">27</text>
<line x1="505.5" y1="530" x2="505.5" y2="532" stroke="#808080" stroke-width="1"/>
<text x="505.5" y="546" font-size="11" fill="#555" text-anchor="middle">Oct</text>
<line x1="540.5" y1="530" x2="540.5" y2="532" stroke="#808080" stroke-width="1"/>
<text x="540.5" y="546" font-size="11" fill="#555" text-anchor="middle">7</text>
<line x1="575.5" y1="530" x2="575.5" y2="532" stroke="#808080" stroke-width="1"/>
<text x="575.5" y="546" font-size="11" fill="#555" text-anchor="middle">13</text>
<line x1="610.5" y1="530" x2="610.5" y2="532" stroke="#808080" stroke-width="1"/>
<text x="610.5" y="546" font-size="11" fill="#555" text-anchor="middle">19</text>
<line x1="644.5" y1="530" x2="644.5" y2="532" stroke="#808080" stroke-width="1"/>
<text x="644.5" y="546" font-size="11" fill="#555" text-anchor="middle">25</text>
<line x1="688.5" y1="530" x2="688.5" y2="532" stroke="#808080" stroke-width="1"/>
<text x="688.5" y="546" font-size="11" fill="#555" text-anchor="middle">Nov</text>
<line x1="723.5" y1="530" x2="723.5" y2="532" stroke="#808080" stroke-width="1"/>
<text x="723.5" y="546" font-size="11" fill="#555" text-anchor="middle">7</text>
<line x1="758.5" y1="530" x2="758.5" y2="532" stroke="#808080" stroke-width="1"/>
<text x="758.5" y="546" font-size="11" fill="#555" text-anchor="middle">11</text>
<line x1="793.5" y1="530" x2="793.5" y2="532" stroke="#808080" stroke-width="1"/>
<text x="793.5" y="546" font-size="11" fill="#555" text-anchor="middle">17</text>
<line x1="828.5" y1="530" x2="828.5" y2="532" stroke="#808080" stroke-width="1"/>
<text x="828.5" y="546" font-size="11" fill="#555" text-anchor="middle">23</text>
<line x1="880.5" y1="530" x2="880.5" y2="532" stroke="#808080" stroke-width="1"/>
<text x="880.5" y="546" font-size="11" fill="#555" text-anchor="middle">Dec</text>
<line x1="906.5" y1="530" x2="906.5" y2="532" stroke="#808080" stroke-width="1"/>
<text x="906.5" y="546" font-size="11" fill="#555" text-anchor="middle">6</text>
<line x1="932.5" y1="530" x2="932.5" y2="532" stroke="#808080" stroke-width="1"/>
<text x="932.5" y="546" font-size="11" fill="#555" text-anchor="middle">9</text>
<line x1="958.5" y1="530" x2="958.5" y2="532" stroke="#808080" stroke-width="1"/>
<text x="958.5" y="546" font-size="11" fill="#555" text-anchor="middle">14</text>
<line x1="985.5" y1="530" x2="985.5" y2="532" stroke="#808080" stroke-width="1"/>
<text x="985.5" y="546" font-size="11" fill="#555" text-anchor="middle">19</text>
<line x1="1011.5" y1="530" x2="1011.5" y2="532" stroke="#808080" stroke-width="1"/>
<text x="1011.5" y="546" font-size="11" fill="#555" text-anchor="middle">22</text>
<line x1="1037.5" y1="530" x2="1037.5" y2="532" stroke="#808080" stroke-width="1"/>
<text x="1037.5" y="546" font-size="11" fill="#555" text-anchor="middle">27</text>
<line x1="1072.5" y1="530" x2="1072.5" y2="532" stroke="#808080" stroke-width="1"/>
<text x="1072.5" y="546" font-size="11" fill="#555" text-anchor="middle">Jan</text>
<line x1="1107.5" y1="530" x2="1107.5" y2="532" stroke="#808080" stroke-width="1"/>
<text x="1107.5" y="546" font-size="11" fill="#555" text-anchor="middle">6</text>
</svg></body></html>
